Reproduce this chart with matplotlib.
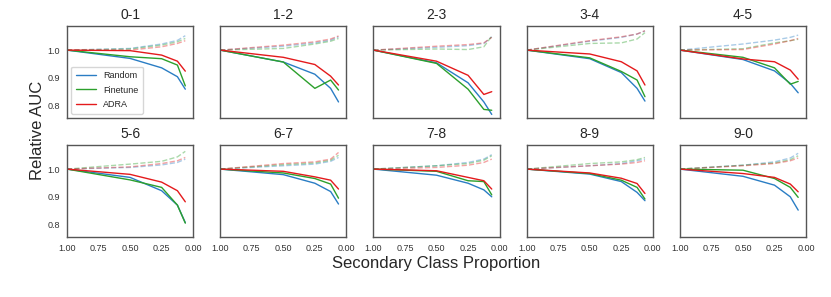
import matplotlib.pyplot as plt
import seaborn as sns

sns.set_style('white')
plt.rcParams['font.family'] = ['Liberation Sans', 'DejaVu Sans']

proportions = [1.0, 0.5, 0.25, 0.125, 0.0625]
pairs = ['0-1', '1-2', '2-3', '3-4', '4-5', '5-6', '6-7', '7-8', '8-9', '9-0']
methods = ['Random', 'Finetune', 'ADRA']
colors = {'Random': '#2a7dc4', 'Finetune': '#2ca02c', 'ADRA': '#e41a1c'}

# relative AUC on the secondary task (solid lines)
random_auc = [
    [1.0, 0.970, 0.936, 0.904, 0.859],
    [1.0, 0.957, 0.913, 0.862, 0.813],
    [1.0, 0.954, 0.882, 0.813, 0.768],
    [1.0, 0.969, 0.919, 0.862, 0.816],
    [1.0, 0.966, 0.925, 0.880, 0.846],
    [1.0, 0.970, 0.922, 0.870, 0.807],
    [1.0, 0.980, 0.949, 0.919, 0.874],
    [1.0, 0.978, 0.949, 0.925, 0.900],
    [1.0, 0.982, 0.955, 0.916, 0.886],
    [1.0, 0.974, 0.942, 0.900, 0.852],
]
finetune_auc = [
    [1.0, 0.976, 0.969, 0.946, 0.871],
    [1.0, 0.957, 0.862, 0.892, 0.856],
    [1.0, 0.952, 0.859, 0.786, 0.783],
    [1.0, 0.972, 0.923, 0.892, 0.832],
    [1.0, 0.974, 0.936, 0.877, 0.887],
    [1.0, 0.961, 0.934, 0.870, 0.805],
    [1.0, 0.986, 0.966, 0.946, 0.895],
    [1.0, 0.992, 0.958, 0.955, 0.907],
    [1.0, 0.984, 0.960, 0.934, 0.892],
    [1.0, 0.996, 0.966, 0.934, 0.898],
]
adra_auc = [
    [1.0, 0.998, 0.982, 0.960, 0.924],
    [1.0, 0.974, 0.948, 0.906, 0.874],
    [1.0, 0.960, 0.909, 0.840, 0.850],
    [1.0, 0.986, 0.958, 0.925, 0.874],
    [1.0, 0.968, 0.958, 0.928, 0.895],
    [1.0, 0.981, 0.953, 0.922, 0.882],
    [1.0, 0.992, 0.972, 0.960, 0.928],
    [1.0, 0.994, 0.970, 0.958, 0.928],
    [1.0, 0.986, 0.967, 0.948, 0.912],
    [1.0, 0.984, 0.970, 0.946, 0.918],
]

# relative AUC on the primary task (dashed lines)
random_primary = [
    [1.0, 1.006, 1.022, 1.035, 1.052],
    [1.0, 1.014, 1.026, 1.036, 1.048],
    [1.0, 1.010, 1.016, 1.024, 1.048],
    [1.0, 1.032, 1.046, 1.058, 1.069],
    [1.0, 1.022, 1.036, 1.046, 1.054],
    [1.0, 1.006, 1.015, 1.024, 1.036],
    [1.0, 1.012, 1.018, 1.028, 1.042],
    [1.0, 1.012, 1.024, 1.036, 1.052],
    [1.0, 1.012, 1.020, 1.030, 1.036],
    [1.0, 1.014, 1.026, 1.040, 1.057],
]
finetune_primary = [
    [1.0, 1.004, 1.018, 1.030, 1.042],
    [1.0, 1.006, 1.022, 1.032, 1.042],
    [1.0, 1.004, 1.002, 1.012, 1.050],
    [1.0, 1.024, 1.026, 1.040, 1.063],
    [1.0, 1.005, 1.026, 1.034, 1.039],
    [1.0, 1.018, 1.028, 1.044, 1.064],
    [1.0, 1.016, 1.022, 1.032, 1.050],
    [1.0, 1.012, 1.020, 1.032, 1.048],
    [1.0, 1.020, 1.026, 1.034, 1.042],
    [1.0, 1.014, 1.022, 1.034, 1.048],
]
adra_primary = [
    [1.0, 1.000, 1.012, 1.024, 1.034],
    [1.0, 1.018, 1.030, 1.040, 1.051],
    [1.0, 1.014, 1.020, 1.026, 1.046],
    [1.0, 1.034, 1.048, 1.058, 1.070],
    [1.0, 1.002, 1.022, 1.034, 1.042],
    [1.0, 1.008, 1.020, 1.030, 1.042],
    [1.0, 1.020, 1.026, 1.036, 1.060],
    [1.0, 1.006, 1.014, 1.024, 1.036],
    [1.0, 1.012, 1.018, 1.024, 1.030],
    [1.0, 1.012, 1.020, 1.030, 1.040],
]

secondary = {'Random': random_auc, 'Finetune': finetune_auc, 'ADRA': adra_auc}
primary = {'Random': random_primary, 'Finetune': finetune_primary, 'ADRA': adra_primary}

fig, axes = plt.subplots(2, 5, figsize=(8.31, 2.97), dpi=100, sharex=True, sharey=True)
fig.subplots_adjust(left=0.0806, right=0.970, top=0.9125, bottom=0.202,
                    wspace=0.214, hspace=0.293)

for i, ax in enumerate(axes.flat):
    for m in methods:
        ax.plot(proportions, primary[m][i], '--', color=colors[m], alpha=0.4, lw=1.0)
    for m in methods:
        ax.plot(proportions, secondary[m][i], color=colors[m], lw=1.0, label=m)
    ax.set_title(pairs[i], fontsize=10, pad=5)
    for spine in ax.spines.values():
        spine.set_color('#555555')
        spine.set_linewidth(1.0)
    ax.tick_params(labelsize=6.5, colors='#333333', length=0, pad=5)

ax0 = axes[0, 0]
ax0.set_xlim(1.0, 0.0)
ax0.set_ylim(0.755, 1.087)
ax0.set_xticks([1.0, 0.75, 0.5, 0.25, 0.0])
ax0.set_yticks([0.8, 0.9, 1.0])
ax0.set_xticklabels(['1.00', '0.75', '0.50', '0.25', '0.00'])
ax0.set_yticklabels(['0.8', '0.9', '1.0'])
ax0.legend(loc='lower left', fontsize=6.5, frameon=True, handlelength=2.2,
           borderpad=0.5, labelspacing=0.6)

fig.text(0.045, 0.56, 'Relative AUC', rotation=90, ha='center', va='center', fontsize=12)
fig.text(0.525, 0.114, 'Secondary Class Proportion', ha='center', va='center', fontsize=12)

plt.savefig('out.png', dpi=100)
